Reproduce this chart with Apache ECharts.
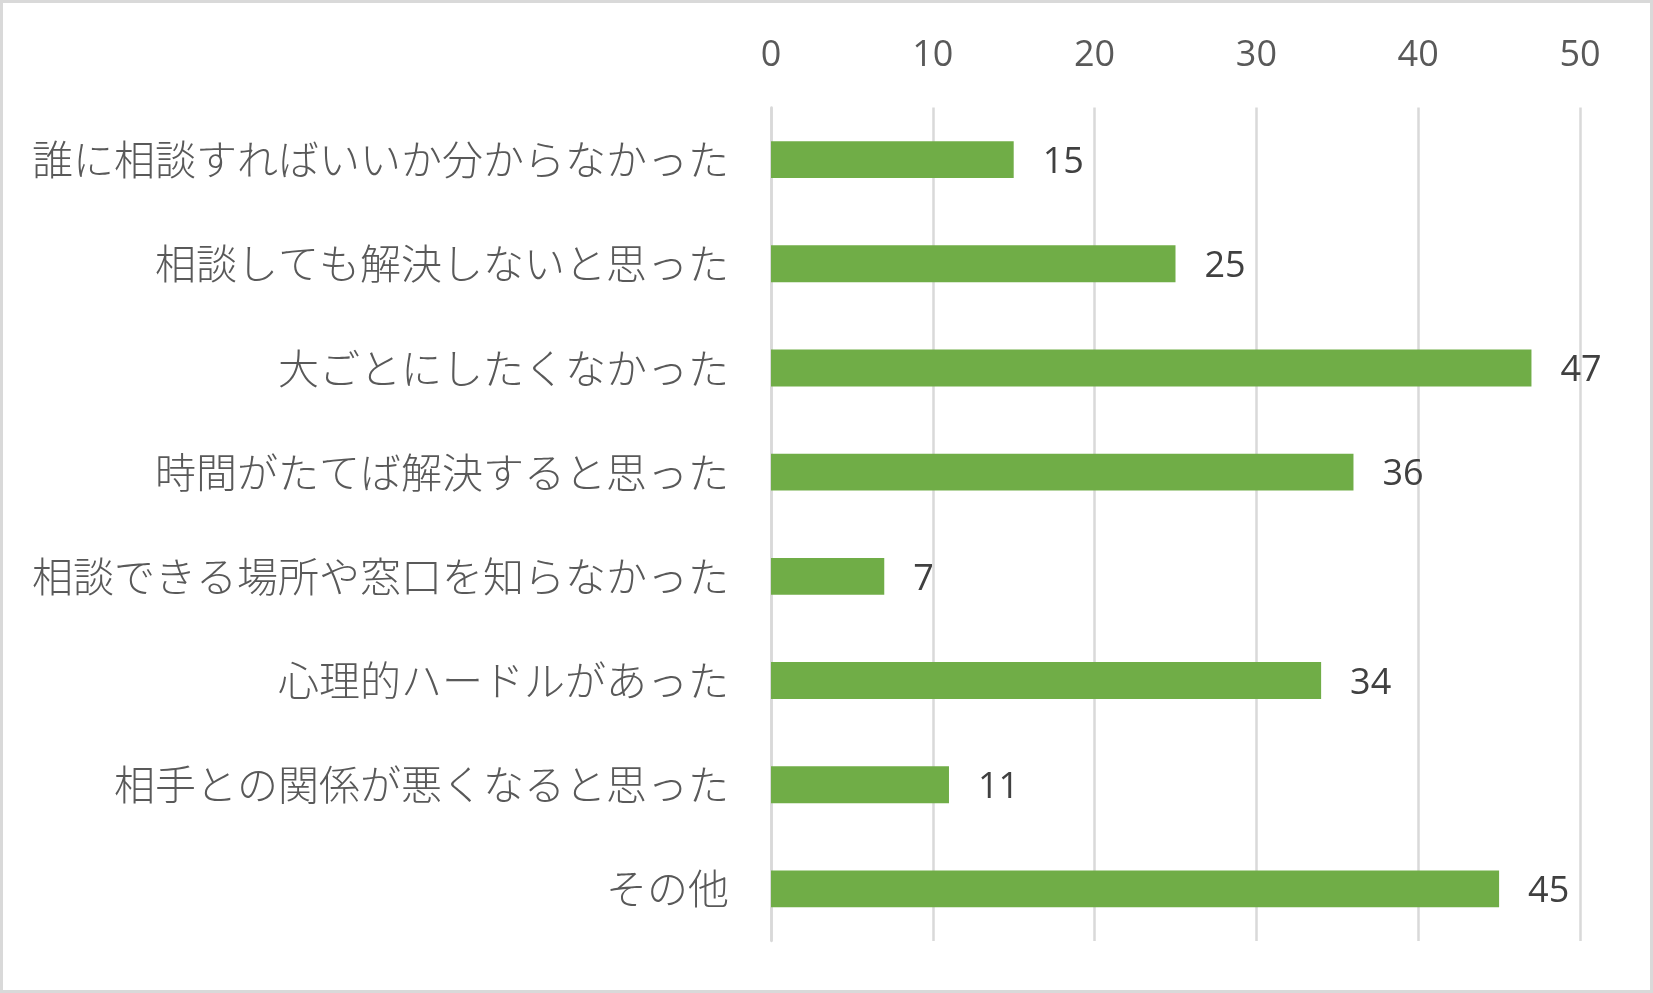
<!DOCTYPE html>
<html>
<head>
<meta charset="utf-8">
<title>相談しなかった理由</title>
<script src="https://cdn.jsdelivr.net/npm/echarts@6/dist/echarts.min.js"></script>
<style>
	html, body { margin: 0; padding: 0; background: #fff; }
	#main { width: 1653px; height: 993px; }
</style>
</head>
<body>
<div id="main"></div>
<script>
// 項目名（上から順）
var categories = [
	'誰に相談すればいいか分からなかった',
	'相談しても解決しないと思った',
	'大ごとにしたくなかった',
	'時間がたてば解決すると思った',
	'相談できる場所や窓口を知らなかった',
	'心理的ハードルがあった',
	'相手との関係が悪くなると思った',
	'その他'
];
// 回答数
var counts = [15, 25, 47, 36, 7, 34, 11, 45];
// 目盛り
var axisMin = 0;
var axisMax = 50;
var axisStep = 10;

var myChart = echarts.init(document.getElementById('main'));

var option = {
	backgroundColor: '#ffffff',
	animation: false,
	graphic: [{
		type: 'rect',
		shape: { x: 1.5, y: 1.5, width: 1650, height: 990 },
		style: { fill: 'none', stroke: '#d9d9d9', lineWidth: 3 },
		silent: true
	}],
	grid: {
		left: 771,
		right: 73,
		top: 107.5,
		bottom: 52
	},
	xAxis: {
		type: 'value',
		position: 'top',
		min: axisMin,
		max: axisMax,
		interval: axisStep,
		axisLine: { show: false },
		axisTick: { show: false },
		axisLabel: {
			color: '#595959',
			fontSize: 36,
			fontFamily: 'Open Sans',
			margin: 34
		},
		splitLine: {
			lineStyle: { color: '#d9d9d9', width: 2.5 }
		}
	},
	yAxis: {
		type: 'category',
		inverse: true,
		data: categories,
		axisLine: {
			show: true,
			lineStyle: { color: '#d9d9d9', width: 2.5 }
		},
		axisTick: { show: false },
		axisLabel: {
			color: '#595959',
			fontSize: 41,
			fontFamily: 'Noto Sans CJK JP',
			fontWeight: 300,
			margin: 42
		}
	},
	series: [{
		type: 'bar',
		data: counts,
		barWidth: '35.4%',
		itemStyle: { color: '#70ad47' },
		label: {
			show: true,
			position: 'right',
			distance: 29,
			offset: [0, 3],
			color: '#404040',
			fontSize: 36,
			fontFamily: 'Open Sans'
		}
	}]
};

myChart.setOption(option);
</script>
</body>
</html>
